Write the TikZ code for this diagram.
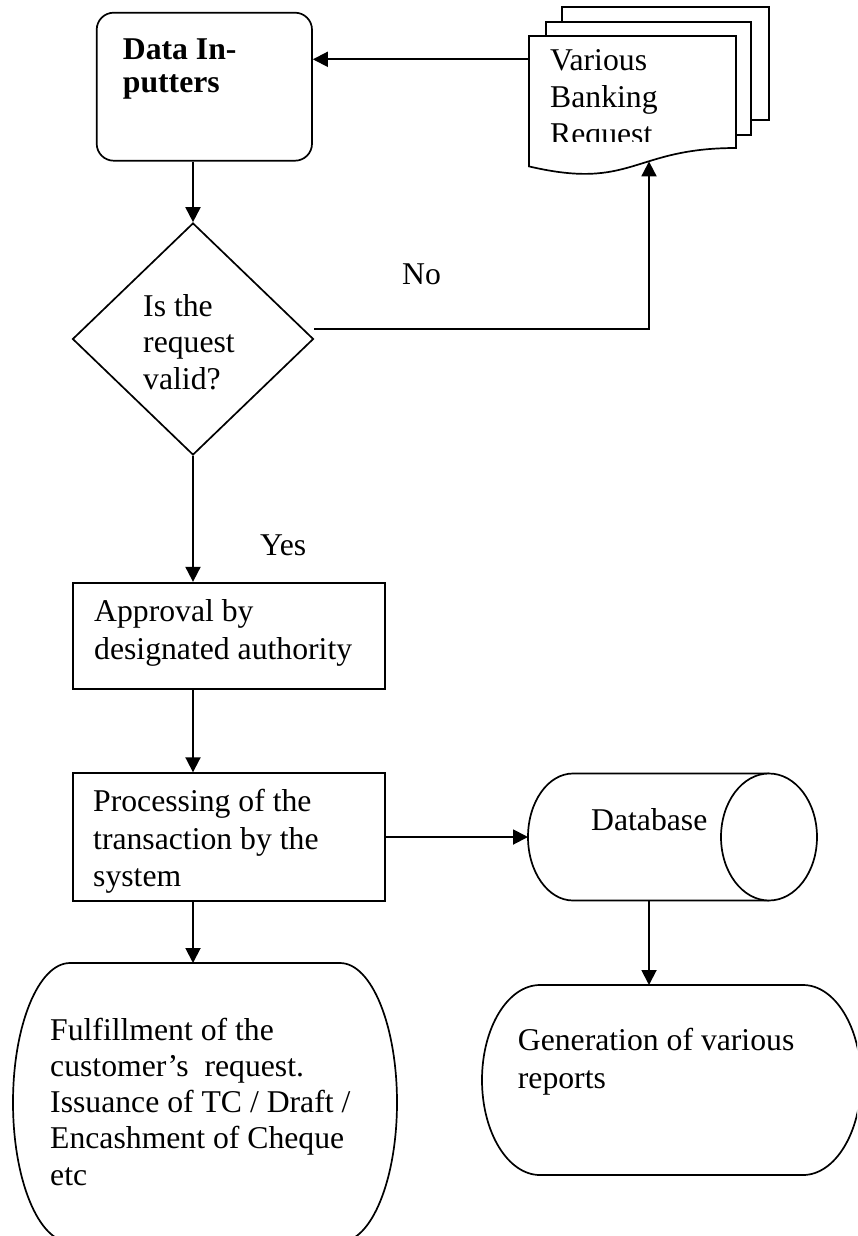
\documentclass[tikz,border=0pt]{standalone}
\usepackage{fontspec}
\setmainfont{Liberation Serif}
\usetikzlibrary{arrows.meta,shapes.geometric}

\begin{document}
\begin{tikzpicture}[x=1pt,y=-1pt,
  shapeline/.style={draw=black,line width=1.7pt,fill=white},
  boxnode/.style={shapeline,rectangle,inner sep=0pt},
  flow/.style={line width=1.9pt,-{Triangle[length=15pt,width=15pt]}},
  % multi-line texts are placed by the baseline of their last line
  txt/.style={anchor=base west,inner sep=0pt,align=left,font=\fontsize{31.7}{37.3}\selectfont},
]
\useasboundingbox (0,0) rectangle (857,1236);
\clip (0,0) rectangle (857,1236);

% ---- Data inputters
\node[shapeline,rounded corners=17pt,minimum width=215.3pt,minimum height=148pt,inner sep=0pt] (inp) at (204.35,86.7) {};
\node[txt,font=\bfseries\fontsize{31.7}{33}\selectfont] (inptxt) at (122.7,93) {Data In-\\putters};

% ---- Stack of banking request documents
\path[shapeline] (562,7.3) rectangle (769,120);
\path[shapeline] (546,21.7) rectangle (751,135);
\path[shapeline] (529,36) -- (736,36) -- (736,148)
  .. controls (632.5,148) and (632.5,190.7) .. (529,166.4) -- cycle;
\coordinate (doc-w) at (529,59.3);
\coordinate (doc-s) at (649,161.4);
\begin{scope}
  \clip (540,36) rectangle (736,141.7);
  \node[txt,font=\fontsize{31.7}{37}\selectfont] (doctxt) at (550,145) {Various\\Banking\\Request};
\end{scope}

% ---- Decision
\node[shapeline,diamond,minimum width=241pt,minimum height=232pt,inner sep=0pt] (dec) at (193,339) {};
\node[txt,font=\fontsize{31.7}{36.5}\selectfont] (dectxt) at (143,389) {Is the\\request\\valid?};
\node[txt] (no) at (402,284) {No};
\node[txt] (yes) at (260,555) {Yes};

% ---- Approval
\node[boxnode,minimum width=312.3pt,minimum height=106.3pt] (apv) at (228.85,635.85) {};
\node[txt] (apvtxt) at (94,659) {Approval by\\designated authority};

% ---- Processing
\node[boxnode,minimum width=312.3pt,minimum height=127.7pt] (prc) at (228.85,837) {};
\node[txt] (prctxt) at (93,886.3) {Processing of the\\transaction by the\\system};

% ---- Fulfillment terminator
\path[shapeline] (70,963) -- (340,963)
  .. controls (371.5,963) and (397,1025.5) .. (397,1102.5)
  .. controls (397,1179.5) and (371.5,1242) .. (340,1242) -- (70,1242)
  .. controls (38.5,1242) and (13,1179.5) .. (13,1102.5)
  .. controls (13,1025.5) and (38.5,963) .. (70,963) -- cycle;
\coordinate (ful-n) at (193,963);
\node[txt,font=\fontsize{31.7}{36.3}\selectfont] (fultxt) at (50,1185.2)
  {Fulfillment of the\\customer’s~ request.\\Issuance of TC / Draft /\\Encashment of Cheque\\etc};

% ---- Database (horizontal cylinder)
\path[shapeline] (769,773.5) -- (573,773.5)
  .. controls (548.1,773.5) and (528,801.9) .. (528,837)
  .. controls (528,872.1) and (548.1,900.5) .. (573,900.5) -- (769,900.5);
\path[shapeline] (769,773.5)
  .. controls (795.5,773.5) and (817,801.9) .. (817,837)
  .. controls (817,872.1) and (795.5,900.5) .. (769,900.5)
  .. controls (742.5,900.5) and (721,872.1) .. (721,837)
  .. controls (721,801.9) and (742.5,773.5) .. (769,773.5) -- cycle;
\coordinate (db-w) at (528,837);
\coordinate (db-s) at (649,900.5);
\node[txt] (dbtxt) at (591,830) {Database};

% ---- Reports terminator
\path[shapeline] (540,985) -- (803,985)
  .. controls (835,985) and (861,1027.5) .. (861,1080)
  .. controls (861,1132.5) and (835,1175) .. (803,1175) -- (540,1175)
  .. controls (508,1175) and (482,1132.5) .. (482,1080)
  .. controls (482,1027.5) and (508,985) .. (540,985) -- cycle;
\coordinate (gen-n) at (649,985);
\node[txt,font=\fontsize{31.7}{38}\selectfont] (gentxt) at (517.7,1088) {Generation of various\\reports};

% ---- Connectors
\draw[flow] (doc-w) -- (doc-w -| inp.east);
\draw[flow] (inp.south -| dec.north) -- (dec.north);
\draw[flow] ([yshift=10pt]dec.east) -| (doc-s);
\draw[flow] (dec.south) -- (dec.south |- apv.north);
\draw[flow] (dec.south |- apv.south) -- (dec.south |- prc.north);
\draw[flow] (dec.south |- prc.south) -- (ful-n);
\draw[flow] (prc.east) -- (db-w);
\draw[flow] (db-s) -- (gen-n);
\end{tikzpicture}
\end{document}
